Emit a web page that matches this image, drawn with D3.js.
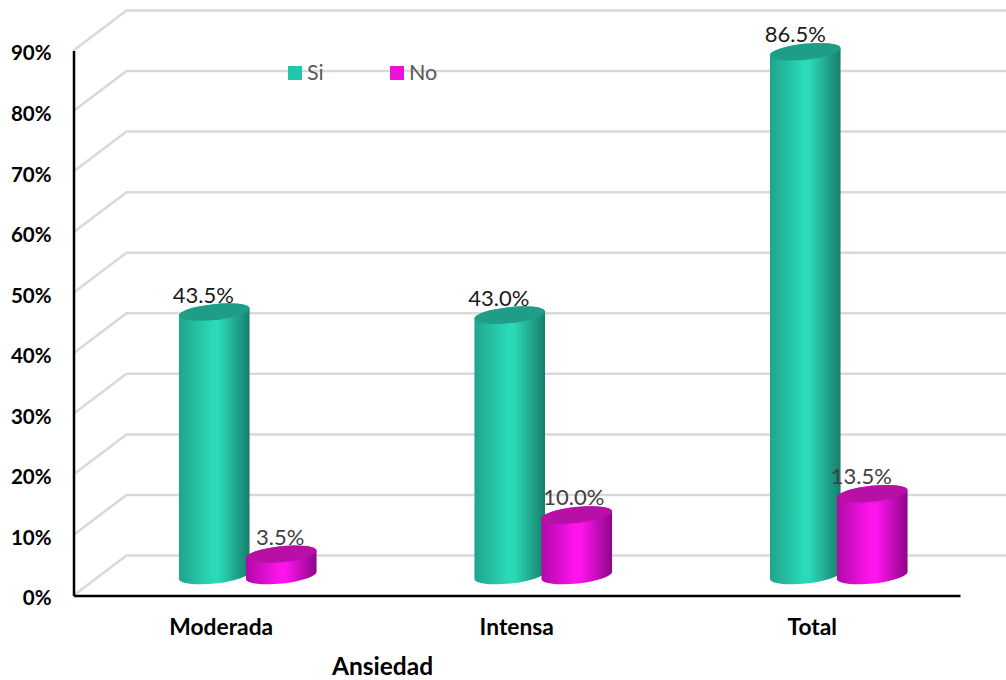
<!DOCTYPE html>
<html lang="es">
<head>
<meta charset="utf-8">
<title>Ansiedad</title>
<script src="https://cdn.jsdelivr.net/npm/d3@7"></script>
<style>
html, body { margin: 0; padding: 0; background: #fff; }
svg { display: block; }
text { font-family: Lato, "Open Sans", sans-serif; }
</style>
</head>
<body>
<svg id="chart" width="1006" height="680"></svg>
<script>
const categories = ["Moderada", "Intensa", "Total"];
const seriesNames = ["Si", "No"];
const siValues = [43.5, 43.0, 86.5];
const noValues = [3.5, 10.0, 13.5];
const tickValues = [0, 10, 20, 30, 40, 50, 60, 70, 80, 90];
const axisTitle = "Ansiedad";

// Horizontal nudges for the value labels, one per category
const siLabelShift = [-11, -11, -10];
const noLabelShift = [-1, -3, -11];

const svg = d3.select("#chart");

const x = d3.scaleBand().domain(categories).range([73.5, 960]);
const y = d3.scaleLinear().domain([0, 90]).range([595.5, 50.5]);

// Oblique depth of the floor and the side wall
const depth = { dx: 53, dy: -40 };
const barShift = { dx: depth.dx / 2, dy: depth.dy / 2 };
const barOffset = d3.scaleBand().domain(seriesNames).range([-67, 67]);

const palettes = {
  Si: { id: "gradSi", top: "#1F9E87", stops: ["#1FA48C", "#2BDAB8", "#2BDAB8", "#177E6B"] },
  No: { id: "gradNo", top: "#B80FA6", stops: ["#B208A8", "#FF14EE", "#FF14EE", "#8E0688"] }
};
const legendColors = { Si: "#21C7A8", No: "#F010DC" };
const labelColors = { Si: "#1a1a1a", No: "#404040" };

// Horizontal shading that gives each column its round look
const defs = svg.append("defs");
Object.values(palettes).forEach(p => {
  const g = defs.append("linearGradient").attr("id", p.id)
    .attr("x1", "0%").attr("x2", "100%").attr("y1", "0%").attr("y2", "0%");
  [0, 0.48, 0.56, 1].forEach((o, i) => {
    g.append("stop").attr("offset", o).attr("stop-color", p.stops[i]);
  });
});

// Gridlines run across the side wall and then along the back wall
const grid = svg.append("g").attr("fill", "none")
  .attr("stroke", "#D9D9D9").attr("stroke-width", 2.5);
grid.selectAll("path").data(tickValues).join("path").attr("d", d => {
  const p = d3.path();
  p.moveTo(x.range()[0], y(d));
  p.lineTo(x.range()[0] + depth.dx, y(d) + depth.dy);
  p.lineTo(x.range()[1] + depth.dx, y(d) + depth.dy);
  return p.toString();
});

// Value axis
const yAxis = svg.append("g").attr("transform", `translate(${x.range()[0]},0)`)
  .call(d3.axisLeft(y).tickValues(tickValues).tickFormat(d => d + "%").tickSize(0).tickPadding(22));
yAxis.select(".domain").attr("stroke", "#000").attr("stroke-width", 2.5);
yAxis.selectAll("text")
  .attr("fill", "#000").attr("font-size", 20.5).attr("font-weight", 700)
  .attr("dy", "0.46em")
  .style("font-family", "Lato, 'Open Sans', sans-serif");

// Category axis
const xAxis = svg.append("g").attr("transform", `translate(0,${y(0)})`)
  .call(d3.axisBottom(x).tickSize(0).tickPadding(23));
xAxis.select(".domain").attr("stroke", "#000").attr("stroke-width", 2.5);
xAxis.selectAll("text")
  .attr("fill", "#000").attr("font-size", 22.8).attr("font-weight", 700)
  .style("font-family", "Lato, 'Open Sans', sans-serif");

svg.append("text").attr("x", 382.5).attr("y", 675)
  .attr("text-anchor", "middle").attr("font-size", 24.5).attr("font-weight", 700)
  .attr("fill", "#000").text(axisTitle);

// Columns are drawn as tilted cylinders standing halfway into the depth
const rx = 35.5, ry = 8, tilt = -6;
const ex = rx * Math.cos(tilt * Math.PI / 180);
const ey = rx * Math.sin(tilt * Math.PI / 180);

function bodyPath(cx, top, bottom) {
  return `M${cx - ex},${top - ey} L${cx - ex},${bottom - ey}` +
    ` A${rx},${ry} ${tilt} 0 0 ${cx + ex},${bottom + ey}` +
    ` L${cx + ex},${top + ey}` +
    ` A${rx},${ry} ${tilt} 0 0 ${cx - ex},${top - ey} Z`;
}

const rows = seriesNames.map((name, s) => ({ name, values: s === 0 ? siValues : noValues,
  shifts: s === 0 ? siLabelShift : noLabelShift }));

rows.forEach(row => {
  const pal = palettes[row.name];
  const cols = categories.map((c, i) => ({
    value: row.values[i],
    shift: row.shifts[i],
    cx: x(c) + x.bandwidth() / 2 + barShift.dx + barOffset(row.name) + barOffset.bandwidth() / 2,
    top: y(row.values[i]) + barShift.dy,
    bottom: y(0) + barShift.dy
  }));
  const g = svg.append("g");
  g.selectAll("path.body").data(cols).join("path").attr("class", "body")
    .attr("d", d => bodyPath(d.cx, d.top, d.bottom))
    .attr("fill", `url(#${pal.id})`);
  g.selectAll("ellipse").data(cols).join("ellipse")
    .attr("rx", rx).attr("ry", ry)
    .attr("transform", d => `translate(${d.cx},${d.top}) rotate(${tilt})`)
    .attr("fill", pal.top);
  row.cols = cols;
});

// Value labels sit above every column
rows.forEach(row => {
  svg.append("g").selectAll("text").data(row.cols).join("text")
    .attr("x", d => d.cx + d.shift)
    .attr("y", d => d.top - 9.5)
    .attr("text-anchor", "middle")
    .attr("font-size", 22)
    .attr("fill", labelColors[row.name])
    .text(d => d.value.toFixed(1) + "%");
});

// Legend
const legendX = d3.scaleOrdinal().domain(seriesNames).range([288, 390]);
const legend = svg.append("g").selectAll("g").data(seriesNames).join("g")
  .attr("transform", d => `translate(${legendX(d)},66)`);
legend.append("rect").attr("width", 14).attr("height", 14).attr("fill", d => legendColors[d]);
legend.append("text").attr("x", 19).attr("y", 14)
  .attr("font-size", 21.5).attr("fill", "#595959").text(d => d);
</script>
</body>
</html>
